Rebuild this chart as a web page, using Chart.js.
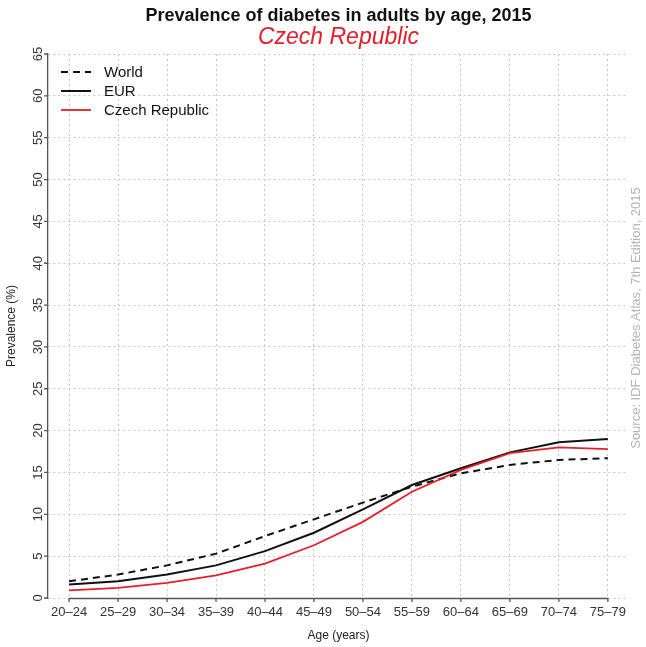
<!DOCTYPE html>
<html>
<head>
<meta charset="utf-8">
<script src="https://cdn.jsdelivr.net/npm/chart.js@4.4.1/dist/chart.umd.min.js"></script>
<style>
  html, body { margin: 0; padding: 0; background: #fff; }
  canvas { display: block; }
</style>
</head>
<body>
<canvas id="chart" width="646" height="647"></canvas>
<script>
// age groups and prevalence (%)
const ageGroups = ['20–24', '25–29', '30–34', '35–39', '40–44', '45–49',
                   '50–54', '55–59', '60–64', '65–69', '70–74', '75–79'];
const world = [2.0, 2.8, 3.9, 5.3, 7.4, 9.4, 11.4, 13.3, 14.9, 15.9, 16.5, 16.7];
const eur   = [1.6, 2.0, 2.8, 3.9, 5.6, 7.8, 10.6, 13.5, 15.5, 17.4, 18.6, 19.0];
const czech = [0.9, 1.2, 1.8, 2.7, 4.1, 6.3, 9.1, 12.7, 15.3, 17.3, 18.0, 17.8];
const yTicks = [0, 5, 10, 15, 20, 25, 30, 35, 40, 45, 50, 55, 60, 65];

const FONT = '"Liberation Sans", Arial, Helvetica, sans-serif';
const RED = '#e3202a';

function toPoints(values) {
    return values.map((v, i) => ({ x: i, y: v }));
}

// draws titles, axis ticks/labels and the legend the R way
const decor = {
    id: 'decor',
    afterDraw(chart) {
        const { ctx, chartArea, scales: { x, y } } = chart;
        const x0 = x.getPixelForValue(0);
        const x1 = x.getPixelForValue(ageGroups.length - 1);
        const yBase = y.getPixelForValue(0);
        ctx.save();

        // x axis line + tick marks
        ctx.strokeStyle = '#555';
        ctx.lineWidth = 1.3;
        ctx.beginPath();
        ctx.moveTo(x0, yBase + 0.5);
        ctx.lineTo(x1, yBase + 0.5);
        ageGroups.forEach((g, i) => {
            const px = x.getPixelForValue(i);
            ctx.moveTo(px, yBase);
            ctx.lineTo(px, yBase + 4);
        });
        // y tick marks
        yTicks.forEach(v => {
            const py = y.getPixelForValue(v);
            ctx.moveTo(chartArea.left, py);
            ctx.lineTo(chartArea.left - 4, py);
        });
        ctx.stroke();

        // tick labels
        ctx.fillStyle = '#333';
        ctx.font = '13px ' + FONT;
        ctx.textAlign = 'center';
        ctx.textBaseline = 'middle';
        ageGroups.forEach((g, i) => {
            ctx.fillText(g, x.getPixelForValue(i), yBase + 14);
        });
        yTicks.forEach(v => {
            ctx.save();
            ctx.translate(chartArea.left - 10, y.getPixelForValue(v));
            ctx.rotate(-Math.PI / 2);
            ctx.fillText(String(v), 0, 0);
            ctx.restore();
        });

        // axis titles
        ctx.fillStyle = '#222';
        ctx.font = '12px ' + FONT;
        ctx.fillText('Age (years)', (x0 + x1) / 2, 636);
        ctx.save();
        ctx.translate(12, (chartArea.top + chartArea.bottom) / 2);
        ctx.rotate(-Math.PI / 2);
        ctx.fillText('Prevalence (%)', 0, 0);
        ctx.restore();

        // source note
        ctx.save();
        ctx.fillStyle = '#b4b4b4';
        ctx.font = '13px ' + FONT;
        ctx.translate(636, 318);
        ctx.rotate(-Math.PI / 2);
        ctx.fillText('Source: IDF Diabetes Atlas, 7th Edition, 2015', 0, 0);
        ctx.restore();

        // titles
        const cx = (x0 + x1) / 2;
        ctx.fillStyle = '#111';
        ctx.font = 'bold 18px ' + FONT;
        ctx.fillText('Prevalence of diabetes in adults by age, 2015', cx, 16);
        ctx.fillStyle = RED;
        ctx.font = 'italic 23px ' + FONT;
        ctx.fillText('Czech Republic', cx, 38);

        // legend
        ctx.font = '15px ' + FONT;
        ctx.textAlign = 'left';
        chart.data.datasets.forEach((ds, i) => {
            const ly = chartArea.top + 18 + i * 19;
            ctx.strokeStyle = ds.borderColor;
            ctx.lineWidth = ds.borderWidth;
            ctx.setLineDash(ds.borderDash || []);
            ctx.beginPath();
            ctx.moveTo(chartArea.left + 13, ly);
            ctx.lineTo(chartArea.left + 43, ly);
            ctx.stroke();
            ctx.setLineDash([]);
            ctx.fillStyle = '#111';
            ctx.fillText(ds.label, chartArea.left + 56, ly + 1);
        });
        ctx.restore();
    }
};

const chart = new Chart(document.getElementById('chart').getContext('2d'), {
    type: 'line',
    data: {
        datasets: [{
            label: 'World',
            data: toPoints(world),
            borderColor: '#111',
            borderWidth: 2,
            borderDash: [7, 5],
            order: 3
        }, {
            label: 'EUR',
            data: toPoints(eur),
            borderColor: '#111',
            borderWidth: 2,
            order: 2
        }, {
            label: 'Czech Republic',
            data: toPoints(czech),
            borderColor: RED,
            borderWidth: 1.8,
            order: 1
        }]
    },
    options: {
        responsive: false,
        animation: false,
        layout: { padding: { left: 48, right: 20, top: 54, bottom: 49 } },
        elements: {
            point: { radius: 0 },
            line: { tension: 0, fill: false }
        },
        plugins: {
            legend: { display: false },
            title: { display: false },
            tooltip: { enabled: false }
        },
        scales: {
            x: {
                type: 'linear',
                min: -0.43,
                max: 11.37,
                afterBuildTicks: scale => {
                    scale.ticks = ageGroups.map((g, i) => ({ value: i }));
                },
                ticks: { display: false },
                grid: { color: '#c8c8c8', lineWidth: 1, drawTicks: false },
                border: { display: false, dash: [2, 3] }
            },
            y: {
                min: 0,
                max: 65,
                afterBuildTicks: scale => {
                    scale.ticks = yTicks.map(v => ({ value: v }));
                },
                ticks: { display: false },
                grid: { color: '#c8c8c8', lineWidth: 1, drawTicks: false },
                border: { display: true, color: '#555', width: 1.3, dash: [2, 3] }
            }
        }
    },
    plugins: [decor]
});
</script>
</body>
</html>
